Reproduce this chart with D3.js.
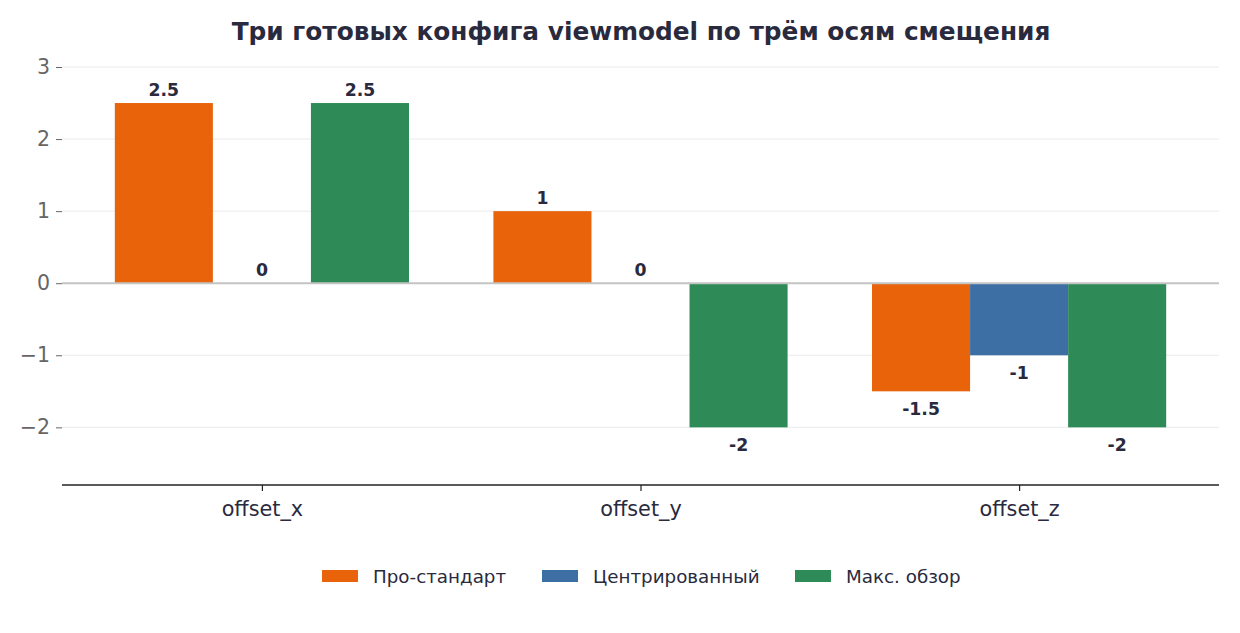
<!DOCTYPE html>
<html><head><meta charset="utf-8">
<script src="https://cdn.jsdelivr.net/npm/d3@7/dist/d3.min.js"></script>
<style>body{margin:0;background:#fff;} svg{display:block;font-family:"DejaVu Sans",sans-serif;}</style>
</head><body>
<script>
const categories = ["offset_x", "offset_y", "offset_z"];
const seriesNames = ["Про-стандарт", "Центрированный", "Макс. обзор"];
const seriesColors = ["#e8630a", "#3d6fa5", "#2e8b57"];
const proValues = [2.5, 1, -1.5];
const centerValues = [0, 0, -1];
const maxValues = [2.5, -2, -2];
const yTicks = [-2, -1, 0, 1, 2, 3];
const title = "Три готовых конфига viewmodel по трём осям смещения";

const seriesValues = [proValues, centerValues, maxValues];
const W = 1240, H = 633;
const m = {left: 62, right: 21, top: 67, bottom: 148};
const svg = d3.select("body").append("svg").attr("width", W).attr("height", H);

const x = d3.scalePoint().domain(categories).range([m.left, W - m.right]).padding(0.528);
const bw = x.step() * 0.259;
const y = d3.scaleLinear().domain([-2.8, 3]).range([H - m.bottom, m.top]);

// grid
svg.append("g").selectAll("line").data(yTicks).join("line")
  .attr("x1", m.left).attr("x2", W - m.right)
  .attr("y1", d => y(d)).attr("y2", d => y(d))
  .attr("stroke", "#ebebeb").attr("stroke-width", 1);

// y axis
const ya = svg.append("g").attr("transform", `translate(${m.left},0)`)
  .call(d3.axisLeft(y).tickValues(yTicks).tickSize(6).tickPadding(6).tickFormat(d => d < 0 ? "\u2212" + Math.abs(d) : d));
ya.select(".domain").remove();
ya.selectAll(".tick line").attr("stroke", "#666");
ya.selectAll("text").attr("font-size", 20.5).attr("fill", "#666").attr("font-family", "DejaVu Sans");

// bars
const data = [];
categories.forEach((c, i) => seriesValues.forEach((vals, s) => data.push({c, s, v: vals[i]})));
const offX = d => x(d.c) + (d.s - 1) * bw - bw / 2;
svg.append("g").selectAll("rect").data(data).join("rect")
  .attr("x", offX).attr("width", bw)
  .attr("y", d => y(Math.max(0, d.v)))
  .attr("height", d => Math.abs(y(d.v) - y(0)))
  .attr("fill", d => seriesColors[d.s]);

// zero line
svg.append("line").attr("x1", m.left).attr("x2", W - m.right)
  .attr("y1", y(0)).attr("y2", y(0)).attr("stroke", "#c4c4c4").attr("stroke-width", 2);

// value labels
svg.append("g").selectAll("text").data(data).join("text")
  .attr("x", d => offX(d) + bw / 2)
  .attr("y", d => d.v >= 0 ? y(d.v) - 7 : y(d.v) + 24)
  .attr("text-anchor", "middle").attr("font-size", 17.3).attr("font-weight", "bold")
  .attr("fill", "#2a2a3e").text(d => d.v);

// x axis
const xa = svg.append("g").attr("transform", `translate(0,${y(-2.8)})`)
  .call(d3.axisBottom(x).tickSize(6).tickPadding(10));
xa.select(".domain").attr("d", `M${m.left},0H${W - m.right}`).attr("stroke", "#222").attr("stroke-width", 1.5);
xa.selectAll(".tick line").attr("stroke", "#222").attr("stroke-width", 1.2);
xa.selectAll("text").attr("font-size", 20.8).attr("fill", "#2a2a3e").attr("font-family", "DejaVu Sans");

// title
svg.append("text").attr("x", 641).attr("y", 40).attr("text-anchor", "middle")
  .attr("font-size", 24.8).attr("font-weight", "bold").attr("fill", "#2a2a3e").text(title);

// legend
const legendX = [322, 542, 795];
const lg = svg.append("g").selectAll("g").data(seriesNames).join("g")
  .attr("transform", (d, i) => `translate(${legendX[i]},576)`);
lg.append("rect").attr("x", 0).attr("y", -6).attr("width", 36).attr("height", 12).attr("fill", (d, i) => seriesColors[i]);
lg.append("text").attr("x", 51).attr("y", 6.5).attr("font-size", 18.3).attr("fill", "#2a2a3e").text(d => d);
</script>
</body></html>
